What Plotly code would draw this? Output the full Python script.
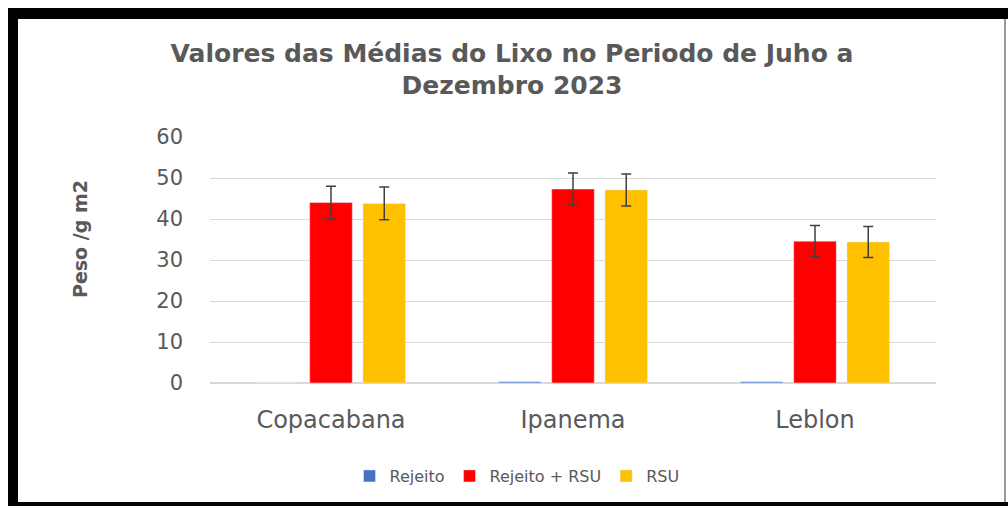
import plotly.graph_objects as go

categories = ["Copacabana", "Ipanema", "Leblon"]
rejeito = [0.0, 0.3, 0.3]
rejeito_rsu = [44.0, 47.3, 34.6]
rejeito_rsu_err = [4.0, 3.9, 3.8]
rsu = [43.8, 47.1, 34.4]
rsu_err = [4.0, 3.9, 3.8]
series_names = ["Rejeito", "Rejeito + RSU", "RSU"]
y_ticks = [0, 10, 20, 30, 40, 50, 60]

W, H = 1008, 506
L, R, T, B = 210, 72, 137, 123
pw, ph = W - L - R, H - T - B

def px(x):
    return (x - L) / pw

def py(y):
    return (H - B - y) / ph

TXT = "#595959"
FONT = "DejaVu Sans"

fig = go.Figure()
fig.add_bar(x=categories, y=rejeito, name=series_names[0], marker_color="#4472C4")
fig.add_bar(x=categories, y=rejeito_rsu, name=series_names[1], marker_color="#FF0000",
            error_y=dict(type="data", array=rejeito_rsu_err, color="#404040", thickness=1.5, width=5))
fig.add_bar(x=categories, y=rsu, name=series_names[2], marker_color="#FFC000",
            error_y=dict(type="data", array=rsu_err, color="#404040", thickness=1.5, width=5))

shapes = [
    dict(type="rect", xref="paper", yref="paper", x0=px(8), x1=px(1008), y0=py(8), y1=py(19),
         fillcolor="black", line_width=0, layer="above"),
    dict(type="rect", xref="paper", yref="paper", x0=px(8), x1=px(18), y0=py(8), y1=py(506),
         fillcolor="black", line_width=0, layer="above"),
    dict(type="rect", xref="paper", yref="paper", x0=px(8), x1=px(1008), y0=py(502), y1=py(506),
         fillcolor="black", line_width=0, layer="above"),
    dict(type="rect", xref="paper", yref="paper", x0=px(1004), x1=px(1006), y0=py(19), y1=py(502),
         fillcolor="#9a9a9a", line_width=0, layer="above"),
]

annotations = [
    dict(text="<b>Peso /g m2</b>", xref="paper", yref="paper", x=px(80), y=py(239),
         xanchor="center", yanchor="middle", textangle=-90, showarrow=False,
         font=dict(family=FONT, size=19, color=TXT)),
]

fig.update_layout(
    width=W, height=H,
    margin=dict(l=L, r=R, t=T, b=B, autoexpand=False),
    paper_bgcolor="white", plot_bgcolor="white",
    font=dict(family=FONT, color=TXT),
    barmode="group", bargap=0.34, bargroupgap=0.2,
    title=dict(text="<b>Valores das Médias do Lixo no Periodo de Juho a<br>Dezembro 2023</b>",
               x=px(512), xref="paper", xanchor="center", y=1 - 61.5 / H, yanchor="middle",
               font=dict(family=FONT, size=25, color=TXT)),
    showlegend=True,
    legend=dict(orientation="h", x=px(517), xanchor="center", y=py(476), yanchor="middle",
                font=dict(family=FONT, size=16, color=TXT), itemwidth=30, traceorder="normal"),
    shapes=shapes,
    annotations=annotations,
    xaxis=dict(showgrid=False, showline=False, ticks="", tickfont=dict(size=24, color=TXT),
               ticklabelstandoff=20),
    yaxis=dict(range=[0, 60], tickvals=y_ticks, showgrid=True, gridcolor="#d9d9d9", gridwidth=1,
               zeroline=True, zerolinecolor="#d9d9d9", showline=False, ticks="",
               tickfont=dict(size=21, color=TXT), ticklabelstandoff=26),
)

fig.write_html("out.html", config={"displayModeBar": False},
               post_script="document.body.style.margin='0';document.body.style.overflow='hidden';")
